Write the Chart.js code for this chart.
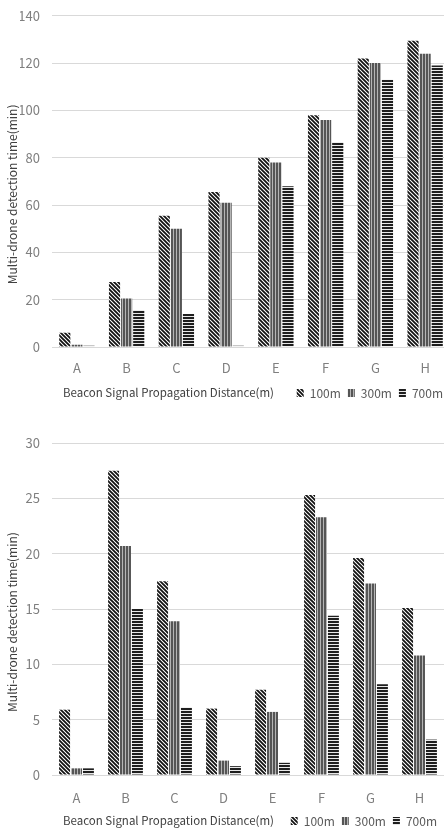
<!DOCTYPE html>
<html>
<head>
<meta charset="utf-8">
<script src="https://cdn.jsdelivr.net/npm/chart.js@4.4.0/dist/chart.umd.min.js"></script>
<style>
  body { margin: 0; background: #fff; overflow: hidden; width: 444px; height: 829px; position: relative; }
  .box { position: absolute; left: 0; }
  #topBox { top: -4px; width: 450px; height: 413px; }
  #bottomBox { top: 405px; width: 444px; height: 432px; }
</style>
</head>
<body>
<div class="box" id="topBox"><canvas id="topChart"></canvas></div>
<div class="box" id="bottomBox"><canvas id="bottomChart"></canvas></div>
<script>
const categories = ['A', 'B', 'C', 'D', 'E', 'F', 'G', 'H'];
const seriesNames = ['100m', '300m', '700m'];

// upper chart
const top100 = [6, 27.5, 55.5, 65.5, 80, 98, 122, 129.5];
const top300 = [1, 20.5, 50, 61, 78, 96, 120, 124];
const top700 = [0.5, 15.5, 14, 0.5, 68, 86.5, 113, 119];
const topTicks = [0, 20, 40, 60, 80, 100, 120, 140];

// lower chart
const bottom100 = [5.9, 27.5, 17.5, 6.0, 7.7, 25.3, 19.6, 15.1];
const bottom300 = [0.6, 20.7, 13.9, 1.3, 5.7, 23.3, 17.3, 10.8];
const bottom700 = [0.6, 15.0, 6.1, 0.8, 1.1, 14.4, 8.2, 3.2];
const bottomTicks = [0, 5, 10, 15, 20, 25, 30];

const xTitle = 'Beacon Signal Propagation Distance(m)';
const yTitle = 'Multi-drone detection time(min)';
const font = '"Noto Sans CJK KR", "Noto Sans", sans-serif';

function diagPattern() {
  const c = document.createElement('canvas');
  c.width = 4; c.height = 4;
  const ctx = c.getContext('2d');
  ctx.fillStyle = '#fff';
  ctx.fillRect(0, 0, 4, 4);
  ctx.strokeStyle = '#111';
  ctx.lineWidth = 1.8;
  ctx.beginPath();
  ctx.moveTo(-1, -1); ctx.lineTo(5, 5);
  ctx.moveTo(-1, 3); ctx.lineTo(1, 5);
  ctx.moveTo(3, -1); ctx.lineTo(5, 1);
  ctx.stroke();
  return ctx.createPattern(c, 'repeat');
}

function vertPattern() {
  const c = document.createElement('canvas');
  c.width = 3; c.height = 1;
  const ctx = c.getContext('2d');
  ctx.fillStyle = '#555';
  ctx.fillRect(0, 0, 2, 1);
  ctx.fillStyle = '#b5b5b5';
  ctx.fillRect(2, 0, 1, 1);
  return ctx.createPattern(c, 'repeat');
}

function horizPattern() {
  const c = document.createElement('canvas');
  c.width = 1; c.height = 3;
  const ctx = c.getContext('2d');
  ctx.fillStyle = '#1e1e1e';
  ctx.fillRect(0, 0, 1, 2);
  ctx.fillStyle = '#e8e8e8';
  ctx.fillRect(0, 2, 1, 1);
  return ctx.createPattern(c, 'repeat');
}

const fills = [diagPattern(), vertPattern(), horizPattern()];

// draws the x title next to the legend and the rotated y title
const sideTitles = {
  id: 'sideTitles',
  afterDraw(chart) {
    const ctx = chart.ctx;
    const area = chart.chartArea;
    const hit = chart.legend.legendHitBoxes[0];
    ctx.save();
    ctx.fillStyle = '#404040';
    ctx.font = '11.5px ' + font;
    ctx.textBaseline = 'middle';
    ctx.textAlign = 'left';
    ctx.fillText(xTitle, area.left + 11, hit.top + hit.height / 2);
    ctx.translate(12, (area.top + area.bottom) / 2 + 13);
    ctx.rotate(-Math.PI / 2);
    ctx.textAlign = 'center';
    ctx.font = '12px ' + font;
    ctx.fillText(yTitle, 0, 0);
    ctx.restore();
  }
};

function makeChart(id, values, ticks, padTop, xHeight, xPad) {
  return new Chart(document.getElementById(id), {
    type: 'bar',
    data: {
      labels: categories,
      datasets: seriesNames.map((name, i) => ({
        label: name,
        data: values[i],
        backgroundColor: fills[i],
        borderWidth: 0,
        categoryPercentage: 0.73,
        barPercentage: 0.92
      }))
    },
    options: {
      responsive: true,
      maintainAspectRatio: false,
      animation: false,
      layout: { padding: { top: padTop, left: 20, right: 0, bottom: 0 } },
      plugins: {
        tooltip: { enabled: false },
        legend: {
          position: 'bottom',
          align: 'end',
          labels: {
            boxWidth: 7,
            boxHeight: 8,
            padding: 7,
            color: '#595959',
            font: { family: font, size: 12 }
          }
        }
      },
      scales: {
        x: {
          afterFit: s => { s.height = xHeight; },
          grid: { display: false, drawTicks: false },
          border: { display: false },
          ticks: { color: '#7f7f7f', padding: xPad, font: { family: font, size: 13 } }
        },
        y: {
          min: ticks[0],
          max: ticks[ticks.length - 1],
          afterBuildTicks: s => { s.ticks = ticks.map(v => ({ value: v })); },
          afterFit: s => { s.width = 32; },
          grid: { color: '#d9d9d9', lineWidth: 1, drawTicks: false },
          border: { display: false },
          ticks: { color: '#7f7f7f', padding: 12, font: { family: font, size: 13 } }
        }
      }
    },
    plugins: [sideTitles]
  });
}

makeChart('topChart', [top100, top300, top700], topTicks, 0, 33, 13);
makeChart('bottomChart', [bottom100, bottom300, bottom700], bottomTicks, 38, 33, 15);
</script>
</body>
</html>
